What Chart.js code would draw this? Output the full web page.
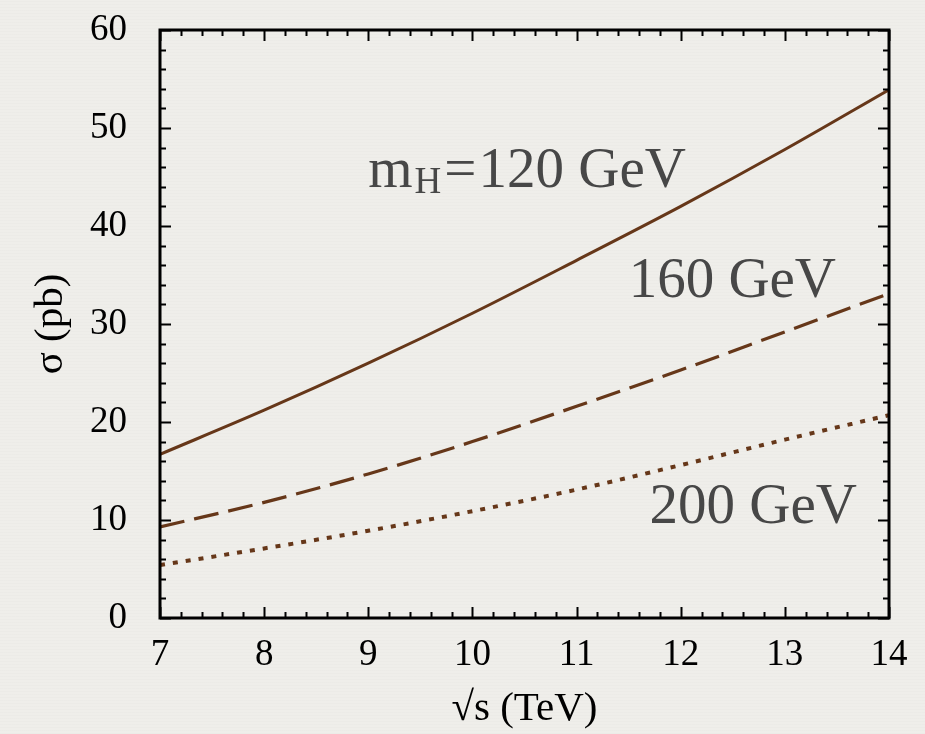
<!DOCTYPE html>
<html lang="en">
<head>
  <meta charset="UTF-8" />
  <title>Higgs cross section vs sqrt(s)</title>
  <script src="https://cdn.jsdelivr.net/npm/chart.js"></script>
  <style>
    html, body {
      margin: 0;
      padding: 0;
      background: #efeeea;
    }
    body {
      background-image: repeating-linear-gradient(0deg, rgba(0,0,0,0.012) 0px, rgba(0,0,0,0.012) 1px, transparent 1px, transparent 3px);
    }
    #wrap {
      width: 925px;
      height: 734px;
    }
  </style>
</head>
<body>
  <div id="wrap"><canvas id="xsec" width="925" height="734"></canvas></div>

  <script>
    // sqrt(s) in TeV
    const energies = [7, 8, 9, 10, 11, 12, 13, 14];
    // sigma (pb) per Higgs mass
    const sigma120 = [16.7, 21.2, 26.0, 31.1, 36.5, 42.0, 47.8, 53.9];
    const sigma160 = [9.3, 11.8, 14.7, 18.0, 21.6, 25.3, 29.2, 33.1];
    const sigma200 = [5.4, 7.1, 8.9, 10.9, 13.1, 15.6, 18.2, 20.7];

    const xTicks = [7, 8, 9, 10, 11, 12, 13, 14];
    const yTicks = [0, 10, 20, 30, 40, 50, 60];

    // curve labels, anchored in data coordinates (left edge, baseline)
    const notes = [
      { x: 9.0, y: 44.0, text: '120 GeV', sub: true },
      { x: 11.50, y: 32.75, text: '160 GeV' },
      { x: 11.70, y: 9.7, text: '200 GeV' }
    ];

    const brown = '#663719';
    const serif = "'Liberation Serif', 'DejaVu Serif', serif";

    const toXY = vals => energies.map((e, i) => ({ x: e, y: vals[i] }));

    // frame + inward ticks on all four sides, like the original plot
    const framePlugin = {
      id: 'frame',
      afterDraw(chart) {
        const { ctx, chartArea: a, scales } = chart;
        const xs = scales.x, ys = scales.y;
        ctx.save();
        ctx.strokeStyle = '#000';
        ctx.lineWidth = 2;
        ctx.beginPath();
        for (let v = 7; v <= 14.001; v += 0.2) {
          const px = Math.round(xs.getPixelForValue(v)) + 0.5;
          const major = Math.abs(v - Math.round(v)) < 0.01;
          const len = major ? 11 : 6;
          ctx.moveTo(px, a.bottom); ctx.lineTo(px, a.bottom - len);
          ctx.moveTo(px, a.top); ctx.lineTo(px, a.top + len);
        }
        for (let v = 0; v <= 60; v += 2) {
          const py = Math.round(ys.getPixelForValue(v)) + 0.5;
          const len = v % 10 === 0 ? 11 : 6;
          ctx.moveTo(a.left, py); ctx.lineTo(a.left + len, py);
          ctx.moveTo(a.right, py); ctx.lineTo(a.right - len, py);
        }
        ctx.stroke();
        ctx.lineWidth = 3;
        ctx.strokeRect(a.left, a.top, a.right - a.left, a.bottom - a.top);

        // curve labels
        ctx.fillStyle = '#474747';
        ctx.textBaseline = 'alphabetic';
        ctx.textAlign = 'left';
        notes.forEach(n => {
          let px = xs.getPixelForValue(n.x);
          const py = ys.getPixelForValue(n.y);
          if (n.sub) {
            ctx.font = '57px ' + serif;
            ctx.fillText('m', px, py);
            px += ctx.measureText('m').width + 2;
            ctx.font = '37px ' + serif;
            ctx.fillText('H', px, py + 6);
            px += ctx.measureText('H').width + 3;
            ctx.font = '57px ' + serif;
            ctx.fillText('=', px, py);
            px += ctx.measureText('=').width + 2;
          }
          ctx.font = '57px ' + serif;
          ctx.fillText(n.text, px, py);
        });
        ctx.restore();
      }
    };

    new Chart(document.getElementById('xsec'), {
      type: 'line',
      data: {
        datasets: [
          { label: 'mH = 120 GeV', data: toXY(sigma120), borderColor: brown, borderWidth: 3, pointRadius: 0, cubicInterpolationMode: 'monotone', fill: false },
          { label: '160 GeV', data: toXY(sigma160), borderColor: brown, borderWidth: 3.2, borderDash: [25, 10], pointRadius: 0, cubicInterpolationMode: 'monotone', fill: false },
          { label: '200 GeV', data: toXY(sigma200), borderColor: brown, borderWidth: 4, borderDash: [5, 8], pointRadius: 0, cubicInterpolationMode: 'monotone', fill: false }
        ]
      },
      options: {
        responsive: false,
        animation: false,
        layout: { padding: { top: 30, right: 36, left: 0, bottom: 0 } },
        plugins: {
          legend: { display: false },
          tooltip: { enabled: false }
        },
        scales: {
          x: {
            type: 'linear',
            min: 7,
            max: 14,
            afterBuildTicks: s => { s.ticks = xTicks.map(v => ({ value: v })); },
            afterFit: s => { s.height = 116; s.paddingLeft = 0; s.paddingRight = 0; },
            grid: { display: false },
            border: { display: false },
            ticks: { color: '#000', font: { family: serif, size: 37 }, padding: 7, maxRotation: 0 },
            title: { display: true, text: '√s (TeV)', color: '#000', font: { family: serif, size: 41 }, padding: { top: 0, bottom: 0 } }
          },
          y: {
            type: 'linear',
            min: 0,
            max: 60,
            afterBuildTicks: s => { s.ticks = yTicks.map(v => ({ value: v })); },
            afterFit: s => { s.width = 160; s.paddingTop = 0; s.paddingBottom = 0; },
            grid: { display: false },
            border: { display: false },
            ticks: { color: '#000', font: { family: serif, size: 37 }, padding: 25 },
            title: { display: true, text: 'σ (pb)', color: '#000', font: { family: serif, size: 41 }, padding: { top: 27, bottom: 0 } }
          }
        }
      },
      plugins: [framePlugin]
    });
  </script>
</body>
</html>
